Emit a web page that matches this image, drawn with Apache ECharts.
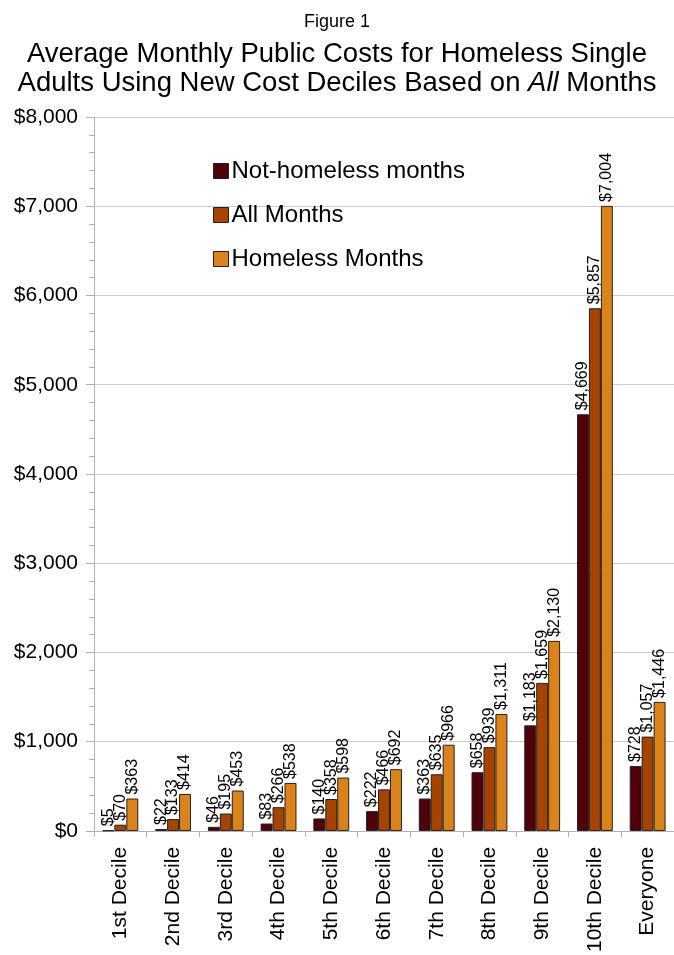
<!DOCTYPE html>
<html><head><meta charset="utf-8">
<script src="https://cdn.jsdelivr.net/npm/echarts@6/dist/echarts.min.js"></script>
<style>html,body{margin:0;padding:0;background:#fff}#c{width:674px;height:955px}</style>
</head><body><div id="c"></div>
<script>
const categories = ['1st Decile','2nd Decile','3rd Decile','4th Decile','5th Decile','6th Decile','7th Decile','8th Decile','9th Decile','10th Decile','Everyone'];
const notHomeless = [5, 22, 46, 83, 140, 222, 363, 658, 1183, 4669, 728];
const allMonths = [70, 133, 195, 266, 358, 466, 635, 939, 1659, 5857, 1057];
const homelessMonths = [363, 414, 453, 538, 598, 692, 966, 1311, 2130, 7004, 1446];
const seriesNames = ['Not-homeless months', 'All Months', 'Homeless Months'];
const colors = ['#4f0009', '#a64300', '#db821b'];

const fmt = v => '$' + Math.round(v).toString().replace(/\B(?=(\d{3})+(?!\d))/g, ',');
const FONT = 'Liberation Sans, Arial, sans-serif';

const chart = echarts.init(document.getElementById('c'));
const mk = (name, data, i) => ({
  name, type: 'bar', data,
  barGap: '0%', barCategoryGap: '32%',
  itemStyle: { color: colors[i], borderColor: '#222', borderWidth: 1 },
  label: { show: true, position: 'top', rotate: 90, align: 'left', verticalAlign: 'middle',
    distance: 4, formatter: p => fmt(p.value), fontFamily: FONT, fontSize: 16, color: '#000' }
});
chart.setOption({
  animation: false,
  title: [
    { text: 'Figure 1', left: 'center', top: 8, textStyle: { fontFamily: FONT, fontSize: 18, fontWeight: 'normal', color: '#000' } },
    { text: 'Average Monthly Public Costs for Homeless Single\nAdults Using New Cost Deciles Based on {i|All} Months', left: 'center', top: 35,
      textStyle: { fontFamily: FONT, fontSize: 27.5, lineHeight: 29, fontWeight: 'normal', color: '#000',
        rich: { i: { fontFamily: FONT, fontSize: 27.5, fontStyle: 'italic', color: '#000' } } } }
  ],
  legend: {
    orient: 'vertical', left: 208, top: 154, itemWidth: 15, itemHeight: 15, itemGap: 20,
    data: seriesNames, icon: 'rect',
    itemStyle: { borderColor: '#222', borderWidth: 1 },
    textStyle: { fontFamily: FONT, fontSize: 24, color: '#000', padding: [0,0,0,-2] }
  },
  grid: { left: 94, right: -3, top: 117, bottom: 121, containLabel: false },
  xAxis: {
    type: 'category', data: categories,
    axisLine: { lineStyle: { color: '#b0b0b0' } },
    axisTick: { show: true, length: 6, lineStyle: { color: '#b0b0b0' } },
    axisLabel: { rotate: 90, fontFamily: FONT, fontSize: 21, color: '#000', margin: 16, interval: 0 }
  },
  yAxis: {
    type: 'value', min: 0, max: 8000, interval: 1000,
    axisLine: { show: true, lineStyle: { color: '#b0b0b0' } },
    axisTick: { show: true, length: 8, lineStyle: { color: '#b0b0b0' } },
    minorTick: { show: true, splitNumber: 5, length: 5, lineStyle: { color: '#b0b0b0' } },
    splitLine: { lineStyle: { color: '#cccccc' } },
    axisLabel: { formatter: v => fmt(v), fontFamily: FONT, fontSize: 21, color: '#000', margin: 16 }
  },
  series: [mk(seriesNames[0], notHomeless, 0), mk(seriesNames[1], allMonths, 1), mk(seriesNames[2], homelessMonths, 2)]
});
</script></body></html>
